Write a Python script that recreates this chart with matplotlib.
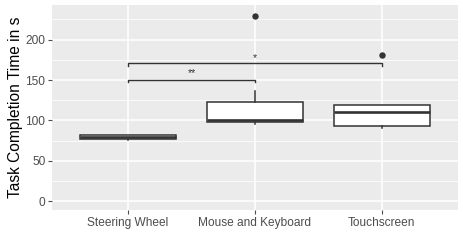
import matplotlib
matplotlib.use("Agg")
import matplotlib.pyplot as plt

plt.rcParams['font.family'] = ['Liberation Sans', 'DejaVu Sans']

# data
groups = ["Steering Wheel", "Mouse and Keyboard", "Touchscreen"]
whis_lo = [76, 95, 91]
q1 = [77.5, 98, 93.5]
med = [79, 101, 111]
q3 = [81.5, 123, 119.5]
whis_hi = [82.5, 136, 119.5]
outliers = [[], [229.5], [181.5]]

# significance brackets
sig_from = [1, 1]
sig_to = [2, 3]
sig_y = [150.5, 170.5]
sig_label = ["**", "*"]
sig_label_y = [152.5, 171.5]

stats = []
for i in range(len(groups)):
    stats.append(dict(med=med[i], q1=q1[i], q3=q3[i], whislo=whis_lo[i],
                      whishi=whis_hi[i], fliers=outliers[i], label=groups[i]))

fig = plt.figure(figsize=(4.63, 2.46), dpi=100)
ax = fig.add_axes([0.112, 0.146, 0.877, 0.834])
ax.set_facecolor("#EBEBEB")
for s in ax.spines.values():
    s.set_visible(False)

ax.set_yticks([0, 50, 100, 150, 200])
ax.set_yticks([25, 75, 125, 175, 225], minor=True)
ax.grid(True, which="major", color="white", linewidth=1.1)
ax.grid(True, which="minor", axis="y", color="white", linewidth=0.55)
ax.set_axisbelow(True)

dark = "#333333"
ax.bxp(stats, positions=[1, 2, 3], widths=0.76, patch_artist=True, showcaps=False,
       boxprops=dict(facecolor="white", edgecolor=dark, linewidth=1.1),
       medianprops=dict(color=dark, linewidth=1.9),
       whiskerprops=dict(color=dark, linewidth=1.1),
       flierprops=dict(marker="o", markerfacecolor=dark, markeredgecolor=dark,
                       markersize=3.6))

for a, b, h, lab, ly in zip(sig_from, sig_to, sig_y, sig_label, sig_label_y):
    ax.plot([a, a, b, b], [h - 3, h, h, h - 3], color=dark, linewidth=1.0)
    ax.text((a + b) / 2, ly, lab, ha="center", va="bottom", fontsize=7.5, color=dark)

ax.set_xlim(0.4, 3.6)
ax.set_ylim(-11, 243)
ax.set_xticks([1, 2, 3])
ax.set_xticklabels(groups)
ax.tick_params(axis="both", colors="#4D4D4D", labelcolor="#4D4D4D", labelsize=8.6,
               length=2.7, width=0.8, pad=2)
ax.tick_params(axis="y", which="minor", length=0)
ax.set_ylabel("Task Completion Time in s", fontsize=11.2, color="black", labelpad=2)

fig.savefig("out.png", dpi=100)
